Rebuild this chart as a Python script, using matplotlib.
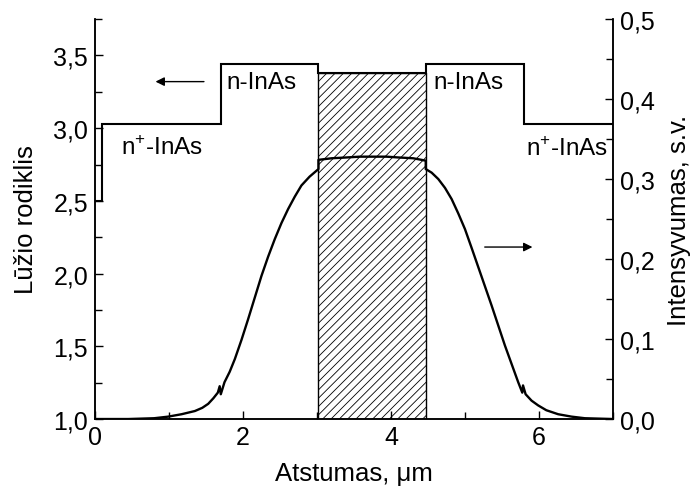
import numpy as np
import matplotlib.pyplot as plt
from matplotlib.ticker import MultipleLocator, FuncFormatter

plt.rcParams['font.family'] = ['Liberation Sans', 'DejaVu Sans']
plt.rcParams['mathtext.fontset'] = 'custom'
plt.rcParams['mathtext.rm'] = 'Liberation Sans'
plt.rcParams['hatch.linewidth'] = 0.6

# layer structure (refractive index profile)
layer_edges = [0.0, 0.1, 1.7, 3.02, 4.47, 5.8, 7.0]
layer_n = [2.5, 3.03, 3.44, 3.38, 3.44, 3.03]
well_x = [3.02, 4.47]
well_n = 3.38

# mode intensity profile
dist = [0.0, 0.45, 0.8, 0.99, 1.17, 1.35, 1.45, 1.53, 1.60, 1.66, 1.685, 1.70, 1.75,
        1.82, 1.89, 1.98, 2.07, 2.16, 2.25, 2.34, 2.43, 2.52, 2.61, 2.70, 2.79, 2.90,
        3.02, 3.02, 3.2, 3.4, 3.58, 3.76, 3.94, 4.1, 4.3, 4.47, 4.47, 4.55, 4.64, 4.73,
        4.82, 4.91, 5.0, 5.09, 5.18, 5.27, 5.36, 5.45, 5.54, 5.63, 5.72, 5.775, 5.785,
        5.82, 5.9, 5.99, 6.1, 6.26, 6.44, 6.62, 7.0]
intens = [0.0, 0.0, 0.001, 0.003, 0.006, 0.010, 0.014, 0.019, 0.026, 0.033, 0.041, 0.031,
          0.046, 0.059, 0.075, 0.099, 0.125, 0.152, 0.179, 0.203, 0.225, 0.245, 0.2625,
          0.278, 0.292, 0.303, 0.3125, 0.324, 0.326, 0.327, 0.328, 0.328, 0.328, 0.327,
          0.326, 0.323, 0.3125, 0.308, 0.300, 0.289, 0.275, 0.257, 0.2375, 0.214, 0.19,
          0.166, 0.142, 0.117, 0.092, 0.069, 0.046, 0.033, 0.042, 0.031, 0.023, 0.017,
          0.011, 0.006, 0.003, 0.001, 0.0]

comma = FuncFormatter(lambda v, p: ('%.1f' % v).replace('.', ','))

fig = plt.figure(figsize=(6.91, 5.02), dpi=100)
ax = fig.add_axes([0.1375, 0.1633, 0.7495, 0.7967])
ax2 = ax.twinx()

ax.fill_between(well_x, 1.0, well_n, facecolor='white', edgecolor='black',
                hatch='////', linewidth=1.0, zorder=1)
ax.stairs(layer_n, layer_edges, baseline=None, color='black', linewidth=1.5, zorder=2)

ax2.plot(dist, intens, color='black', linewidth=1.7)

ax.set_xlim(0, 7)
ax.set_ylim(1.0, 3.75)
ax2.set_ylim(0, 0.5)

ax.xaxis.set_major_locator(MultipleLocator(2))
ax.xaxis.set_minor_locator(MultipleLocator(1))
ax.yaxis.set_major_locator(MultipleLocator(0.5))
ax.yaxis.set_minor_locator(MultipleLocator(0.25))
ax2.yaxis.set_major_locator(MultipleLocator(0.1))
ax2.yaxis.set_minor_locator(MultipleLocator(0.05))
ax.yaxis.set_major_formatter(comma)
ax2.yaxis.set_major_formatter(comma)

for a in (ax, ax2):
    a.spines['top'].set_visible(False)
    for s in a.spines.values():
        s.set_linewidth(1.1)
    a.tick_params(which='both', direction='in', labelsize=18, width=1.0, pad=5)
    a.tick_params(which='major', length=6)
    a.tick_params(which='minor', length=5)
ax.tick_params(axis='x', pad=4)

ax.set_xlabel('Atstumas, μm', fontsize=18.5)
ax.set_ylabel('Lūžio rodiklis', fontsize=18.5)
ax2.set_ylabel('Intensyvumas, s.v.', fontsize=18.5)
ax.xaxis.set_label_coords(0.5, -0.105)
ax.yaxis.set_label_coords(-0.11, 0.5)
ax2.yaxis.set_label_coords(1.104, 0.5)

ax.text(1.78, 3.32, 'n-InAs', fontsize=17.5, va='center')
ax.text(4.57, 3.32, 'n-InAs', fontsize=17.5, va='center')
ax.text(0.35, 2.87, 'n$^{+}$-InAs', fontsize=17.5, va='center')
ax.text(5.82, 2.86, 'n$^{+}$-InAs', fontsize=17.5, va='center')

ax.annotate('', xy=(0.78, 3.32), xytext=(1.51, 3.32),
            arrowprops=dict(arrowstyle='-|>', color='black', lw=1.0,
                            mutation_scale=13))
ax2.annotate('', xy=(5.95, 0.215), xytext=(5.23, 0.215),
             arrowprops=dict(arrowstyle='-|>', color='black', lw=1.0,
                             mutation_scale=13))

fig.savefig('out.png', dpi=100)
